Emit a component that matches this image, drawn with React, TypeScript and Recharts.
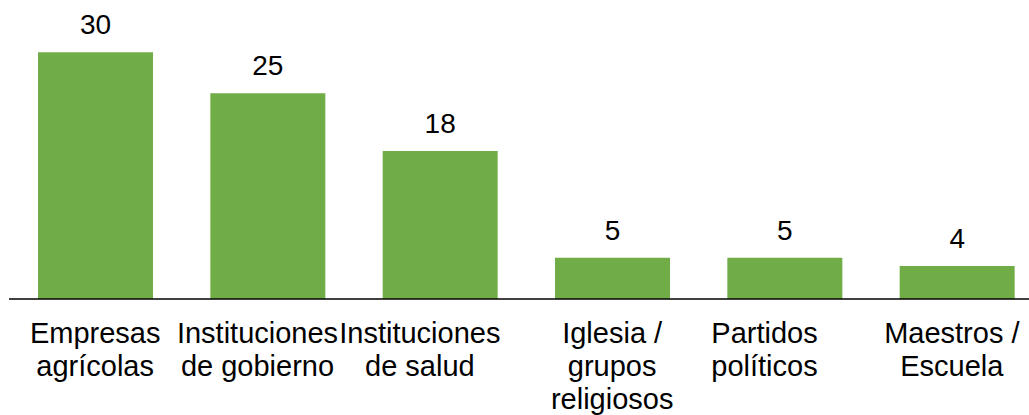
import React from 'react'
import { BarChart, Bar, XAxis, YAxis, LabelList } from 'recharts'

const categories = [
  'Empresas\nagrícolas',
  'Instituciones\nde gobierno',
  'Instituciones\nde salud',
  'Iglesia /\ngrupos\nreligiosos',
  'Partidos\npolíticos',
  'Maestros /\nEscuela',
]

const counts = [30, 25, 18, 5, 5, 4]

const data = categories.map((name, i) => ({ name, value: counts[i] }))

const FONT = '"Liberation Sans", Arial, sans-serif'

// the original's wrapped labels don't sit exactly centred under their bars
const labelNudge = [0, -10, -20, 0, -20, -5]

const CategoryTick = (props: any) => {
  const { x, y, payload, index } = props
  const lines = String(payload.value).split('\n')
  const cx = x + (labelNudge[index] ?? 0)
  return (
    <text x={cx} y={y + 44} textAnchor="middle" fill="#000" fontSize={29} fontFamily={FONT}>
      {lines.map((line, i) => (
        <tspan key={i} x={cx} dy={i === 0 ? 0 : 33}>
          {line}
        </tspan>
      ))}
    </text>
  )
}

export default function App() {
  return (
    <div style={{ position: 'absolute', left: 0, top: 0, width: 1029, height: 415, overflow: 'hidden', background: '#fff' }}>
      <BarChart
        width={1050}
        height={415}
        data={data}
        margin={{ top: 11, right: 7, left: 9, bottom: 0 }}
      >
        <XAxis
          dataKey="name"
          height={116}
          interval={0}
          tickSize={0}
          tickMargin={0}
          tickLine={false}
          axisLine={{ stroke: '#000', strokeWidth: 1.5 }}
          tick={<CategoryTick />}
        />
        <YAxis hide domain={[0, 35]} />
        <Bar dataKey="value" fill="#70AD47" barSize={115} isAnimationActive={false}>
          <LabelList
            dataKey="value"
            position="top"
            offset={18}
            fill="#000"
            fontSize={28}
            fontFamily={FONT}
          />
        </Bar>
      </BarChart>
    </div>
  )
}
